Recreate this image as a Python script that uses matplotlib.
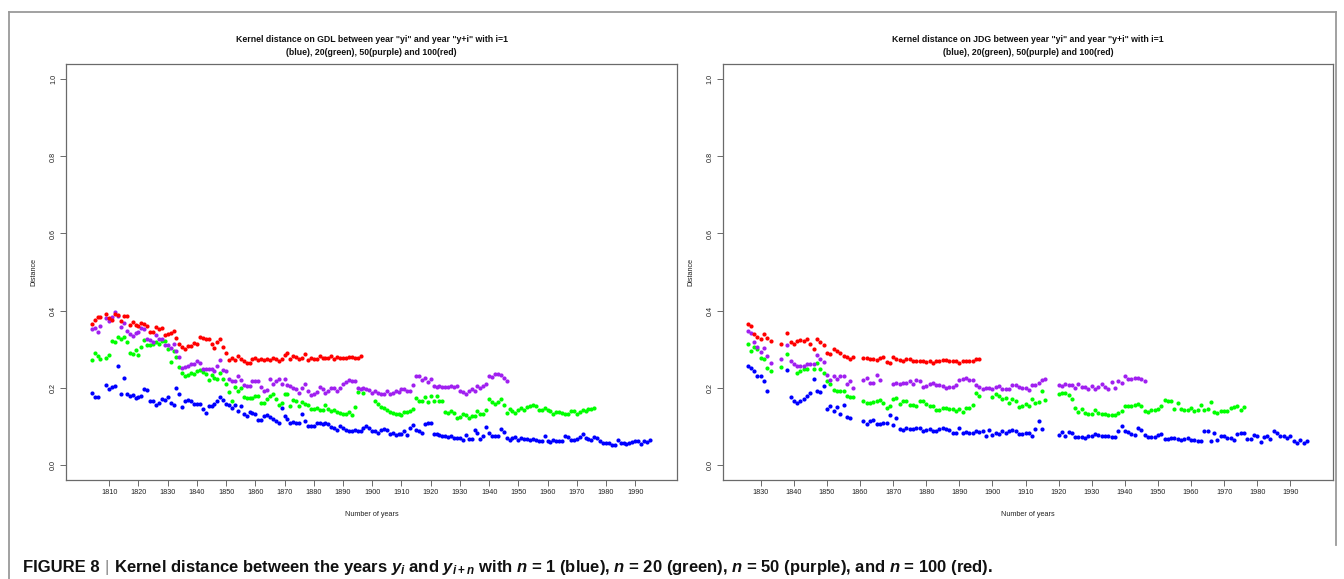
import matplotlib
matplotlib.use("Agg")
import matplotlib.pyplot as plt
from matplotlib.lines import Line2D
import numpy as np

plt.rcParams["font.family"] = ["Liberation Sans", "DejaVu Sans"]
plt.rcParams["mathtext.fontset"] = "custom"
plt.rcParams["mathtext.rm"] = "Liberation Sans:bold"
plt.rcParams["mathtext.bf"] = "Liberation Sans:bold"
plt.rcParams["mathtext.it"] = "Liberation Sans:italic:bold"

# ---------------------------------------------------------------- data
# GDL panel, one value per year starting at 1804 (None = no point)
GDL_START = 1804
gdl_blue = [
    0.186, 0.175, 0.175, None, None, 0.207,
    0.196, 0.201, 0.203, 0.256, 0.183, 0.224, 0.184, 0.177, 0.180, 0.173,
    0.175, 0.177, 0.197, 0.193, 0.166, 0.166, 0.156, 0.159, 0.170, 0.167,
    0.176, 0.160, 0.155, 0.199, 0.184, 0.150, 0.166, 0.168, 0.164, 0.157,
    0.158, 0.157, 0.144, 0.133, 0.152, 0.152, 0.158, 0.166, 0.176, 0.167,
    0.158, 0.156, 0.147, 0.156, 0.139, 0.151, 0.131, 0.125, 0.136, 0.133,
    0.132, 0.116, 0.115, 0.126, 0.128, 0.124, 0.119, 0.113, 0.109, 0.147,
    0.125, 0.119, 0.107, 0.110, 0.107, 0.107, 0.131, 0.114, 0.100, 0.100,
    0.101, 0.108, 0.109, 0.105, 0.109, 0.106, 0.098, 0.094, 0.091, 0.100,
    0.094, 0.091, 0.086, 0.087, 0.090, 0.086, 0.086, 0.094, 0.100, 0.095,
    0.087, 0.087, 0.083, 0.090, 0.092, 0.091, 0.080, 0.081, 0.078, 0.079,
    0.079, 0.086, 0.077, 0.096, 0.103, 0.090, 0.086, 0.082, 0.106, 0.107,
    0.107, 0.080, 0.080, 0.076, 0.075, 0.075, 0.072, 0.075, 0.070, 0.069,
    0.068, 0.065, 0.078, 0.066, 0.067, 0.091, 0.081, 0.066, 0.075, 0.098,
    0.082, 0.073, 0.073, 0.073, 0.092, 0.084, 0.069, 0.065, 0.069, 0.072,
    0.065, 0.068, 0.066, 0.066, 0.064, 0.066, 0.063, 0.061, 0.062, 0.075,
    0.060, 0.058, 0.063, 0.061, 0.062, 0.061, 0.073, 0.072, 0.065, 0.065,
    0.067, 0.072, 0.080, 0.069, 0.066, 0.065, 0.072, 0.069, 0.061, 0.055,
    0.055, 0.055, 0.052, 0.052, 0.065, 0.055, 0.055, 0.053, 0.056, 0.059,
    0.061, 0.061, 0.054, 0.062, 0.059, 0.065,
]
gdl_green = [
    0.271, 0.289, 0.281, 0.274, None, 0.278,
    0.284, 0.320, 0.318, 0.331, 0.327, 0.331, 0.319, 0.291, 0.288, 0.298,
    0.285, 0.306, 0.323, 0.310, 0.310, 0.314, 0.318, 0.312, 0.321, 0.321,
    0.300, 0.266, 0.294, 0.279, 0.253, 0.239, 0.231, 0.233, 0.239, 0.236,
    0.244, 0.245, 0.241, 0.235, 0.219, 0.232, 0.226, 0.223, 0.238, 0.221,
    0.208, 0.189, 0.164, 0.202, 0.190, 0.199, 0.176, 0.174, 0.172, 0.172,
    0.178, 0.177, 0.160, 0.160, 0.171, 0.177, 0.184, 0.169, 0.154, 0.159,
    0.184, 0.183, 0.153, 0.167, 0.164, 0.151, 0.162, 0.158, 0.156, 0.144,
    0.144, 0.147, 0.143, 0.141, 0.156, 0.144, 0.138, 0.141, 0.136, 0.134,
    0.132, 0.132, 0.136, 0.129, 0.150, 0.188, None, 0.185, None, None,
    None, 0.166, 0.157, 0.150, 0.148, 0.141, 0.136, 0.133, 0.132, 0.132,
    0.130, 0.136, 0.136, 0.139, 0.144, 0.173, 0.164, 0.166, 0.176, 0.163,
    0.179, 0.164, 0.177, 0.166, 0.164, 0.136, 0.134, 0.139, 0.134, 0.122,
    0.124, 0.132, 0.129, 0.122, 0.126, 0.127, 0.139, 0.132, 0.132, 0.141,
    0.171, 0.162, 0.158, 0.162, 0.169, 0.154, 0.133, 0.145, 0.139, 0.135,
    0.143, 0.148, 0.143, 0.150, 0.152, 0.154, 0.152, 0.143, 0.143, 0.147,
    0.143, 0.139, 0.132, 0.137, 0.136, 0.133, 0.132, 0.131, 0.139, 0.139,
    0.132, 0.136, 0.142, 0.139, 0.145, 0.145, 0.148,
]
gdl_purple = [
    0.351, 0.355, 0.344, 0.359, None, 0.381,
    0.373, 0.384, 0.396, 0.387, 0.356, 0.368, 0.348, 0.338, 0.334, 0.341,
    0.343, 0.355, 0.352, 0.327, 0.323, 0.319, 0.337, 0.326, 0.326, 0.311,
    0.311, 0.302, 0.312, 0.295, 0.280, 0.252, 0.254, 0.257, 0.260, 0.261,
    0.268, 0.264, 0.248, 0.248, 0.248, 0.248, 0.244, 0.255, 0.272, 0.245,
    0.242, 0.221, 0.216, 0.216, 0.229, 0.219, 0.206, 0.203, 0.203, 0.218,
    0.217, 0.216, 0.202, 0.190, 0.193, 0.223, 0.210, 0.217, 0.222, 0.210,
    0.223, 0.207, 0.203, 0.198, 0.195, 0.187, 0.199, 0.210, 0.190, 0.181,
    0.182, 0.189, 0.202, 0.195, 0.187, 0.191, 0.200, 0.198, 0.190, 0.198,
    0.209, 0.214, 0.219, 0.216, 0.216, 0.200, 0.195, 0.200, 0.197, 0.194,
    0.185, 0.191, 0.185, 0.182, 0.184, 0.190, 0.182, 0.185, 0.192, 0.189,
    0.197, 0.195, 0.190, 0.190, 0.207, 0.230, 0.229, 0.220, 0.226, 0.215,
    0.221, 0.205, 0.202, 0.203, 0.202, 0.201, 0.202, 0.203, 0.202, 0.203,
    0.190, 0.188, 0.184, 0.190, 0.197, 0.190, 0.205, 0.200, 0.203, 0.210,
    0.229, 0.227, 0.234, 0.235, 0.233, 0.226, 0.218,
]
gdl_red = [
    0.366, 0.375, 0.384, 0.384, None, 0.390,
    0.380, 0.375, 0.390, 0.388, 0.372, 0.387, 0.385, 0.363, 0.369, 0.362,
    0.359, 0.368, 0.366, 0.359, 0.343, 0.343, 0.356, 0.351, 0.355, 0.337,
    0.338, 0.342, 0.346, 0.328, 0.313, 0.304, 0.301, 0.307, 0.308, 0.316,
    0.313, 0.330, 0.329, 0.326, 0.326, 0.313, 0.303, 0.319, 0.325, 0.305,
    0.289, 0.272, 0.278, 0.271, 0.282, 0.274, 0.268, 0.263, 0.263, 0.274,
    0.277, 0.272, 0.273, 0.271, 0.275, 0.272, 0.277, 0.273, 0.269, 0.273,
    0.285, 0.290, 0.273, 0.282, 0.279, 0.275, 0.276, 0.286, 0.272, 0.278,
    0.274, 0.274, 0.281, 0.278, 0.276, 0.276, 0.282, 0.275, 0.279, 0.276,
    0.276, 0.278, 0.279, 0.279, 0.277, 0.277, 0.283,
]

# JDG panel, one value per year starting at 1826
JDG_START = 1826
jdg_blue = [
    0.257, 0.252, 0.244, 0.229,
    0.230, 0.218, 0.190, None, None, None, None, None, 0.246, 0.176,
    0.166, 0.160, 0.165, 0.171, 0.178, 0.186, 0.223, 0.191, 0.188, 0.203,
    0.144, 0.153, 0.139, 0.150, 0.131, 0.154, 0.123, 0.122, None, None,
    None, 0.114, 0.106, 0.113, 0.117, 0.106, 0.105, 0.109, 0.109, 0.129,
    0.103, 0.121, 0.093, 0.090, 0.094, 0.093, 0.093, 0.096, 0.096, 0.086,
    0.090, 0.093, 0.088, 0.086, 0.092, 0.095, 0.093, 0.090, 0.081, 0.081,
    0.095, 0.081, 0.085, 0.081, 0.081, 0.088, 0.084, 0.088, 0.075, 0.090,
    0.077, 0.081, 0.079, 0.088, 0.083, 0.087, 0.089, 0.087, 0.080, 0.079,
    0.081, 0.081, 0.074, 0.093, 0.114, 0.093, None, None, None, None,
    0.078, 0.084, 0.075, 0.085, 0.082, 0.071, 0.072, 0.072, 0.068, 0.073,
    0.073, 0.079, 0.076, 0.074, 0.074, 0.073, 0.072, 0.071, 0.086, 0.099,
    0.088, 0.084, 0.080, 0.078, 0.094, 0.089, 0.076, 0.072, 0.072, 0.072,
    0.076, 0.079, 0.066, 0.067, 0.070, 0.068, 0.067, 0.063, 0.067, 0.068,
    0.063, 0.065, 0.061, 0.061, 0.087, 0.088, 0.061, 0.081, 0.063, 0.075,
    0.075, 0.070, 0.070, 0.065, 0.079, 0.082, 0.082, 0.066, 0.066, 0.078,
    0.074, 0.059, 0.072, 0.074, 0.066, 0.086, 0.083, 0.075, 0.074, 0.069,
    0.073, 0.061, 0.057, 0.063, 0.055, 0.061,
]
jdg_green = [
    0.314, 0.294, 0.304, 0.299,
    0.278, 0.274, 0.252, 0.242, None, None, 0.253, None, 0.287, None,
    None, 0.239, 0.244, 0.249, 0.249, None, 0.249, 0.265, 0.249, 0.239,
    0.216, 0.208, 0.193, 0.190, 0.190, 0.190, 0.177, 0.176, 0.176, None,
    None, 0.165, 0.160, 0.160, 0.162, 0.166, 0.167, 0.159, 0.148, 0.153,
    0.170, 0.172, 0.157, 0.165, 0.165, 0.155, 0.155, 0.151, 0.165, 0.165,
    0.157, 0.152, 0.152, 0.141, 0.141, 0.147, 0.147, 0.145, 0.145, 0.139,
    0.145, 0.137, 0.146, 0.146, 0.156, 0.187, 0.179, None, None, None,
    0.176, 0.182, 0.178, 0.170, 0.172, 0.160, 0.170, 0.165, 0.149, 0.152,
    0.158, 0.151, 0.171, 0.161, 0.162, 0.190, 0.168, None, None, None,
    0.184, 0.185, 0.186, 0.181, 0.171, 0.148, 0.137, 0.145, 0.135, 0.132,
    0.132, 0.141, 0.135, 0.131, 0.132, 0.129, 0.129, 0.130, 0.135, 0.138,
    0.151, 0.152, 0.152, 0.156, 0.158, 0.153, 0.138, 0.137, 0.143, 0.141,
    0.144, 0.152, 0.167, 0.164, 0.166, 0.145, 0.160, 0.145, 0.141, 0.143,
    0.147, 0.140, 0.141, 0.155, 0.143, 0.144, 0.162, 0.136, 0.134, 0.139,
    0.140, 0.139, 0.148, 0.149, 0.152, 0.141, 0.150,
]
jdg_purple = [
    0.346, 0.341, 0.317, 0.304,
    0.292, 0.302, 0.281, 0.263, None, None, 0.273, None, 0.311, 0.269,
    0.262, 0.257, 0.255, 0.255, 0.261, 0.261, 0.261, 0.285, 0.274, 0.267,
    0.233, 0.219, 0.229, 0.223, 0.230, 0.229, 0.210, 0.216, 0.199, None,
    None, 0.220, 0.225, 0.212, 0.212, 0.233, 0.219, None, None, None,
    0.210, 0.211, 0.209, 0.212, 0.211, 0.216, 0.209, 0.219, 0.217, 0.201,
    0.203, 0.209, 0.211, 0.207, 0.207, 0.205, 0.199, 0.201, 0.201, 0.206,
    0.220, 0.223, 0.225, 0.220, 0.220, 0.206, 0.202, 0.197, 0.199, 0.200,
    0.197, 0.201, 0.205, 0.196, 0.196, 0.196, 0.206, 0.206, 0.201, 0.198,
    0.198, 0.194, 0.206, 0.206, 0.211, 0.219, 0.221, None, None, None,
    0.206, 0.203, 0.209, 0.207, 0.207, 0.199, 0.210, 0.201, 0.201, 0.197,
    0.203, 0.196, 0.201, 0.210, 0.202, 0.197, 0.214, 0.199, 0.216, 0.211,
    0.229, 0.223, 0.223, 0.226, 0.226, 0.223, 0.218,
]
jdg_red = [
    0.365, 0.360, 0.340, 0.332,
    0.326, 0.338, 0.329, 0.320, None, None, 0.313, None, 0.341, 0.317,
    0.313, 0.320, 0.324, 0.321, 0.326, 0.314, 0.301, 0.326, 0.317, 0.311,
    0.290, 0.286, 0.301, 0.296, 0.290, 0.282, 0.280, 0.275, 0.279, None,
    None, 0.277, 0.278, 0.273, 0.275, 0.271, 0.277, 0.279, 0.267, 0.265,
    0.280, 0.274, 0.271, 0.268, 0.274, 0.274, 0.270, 0.269, 0.269, 0.268,
    0.267, 0.270, 0.264, 0.268, 0.270, 0.271, 0.271, 0.268, 0.269, 0.268,
    0.265, 0.270, 0.269, 0.269, 0.270, 0.274, 0.274,
]

gdl_xticks = list(range(1810, 2000, 10))
jdg_xticks = list(range(1830, 2000, 10))
yticks = [0.0, 0.2, 0.4, 0.6, 0.8, 1.0]

title_tail = 'between year "yi" and year "y+i" with i=1\n(blue), 20(green), 50(purple) and 100(red)'
gdl_title = "Kernel distance on GDL " + title_tail
jdg_title = "Kernel distance on JDG " + title_tail

COLORS = {"blue": "#0000ff", "green": "#00ff00", "purple": "#a020f0", "red": "#ff0000"}
AXIS_GREY = "#6a6a6a"

W, H = 1344, 579
fig = plt.figure(figsize=(W / 100, H / 100), dpi=100)
fig.patch.set_facecolor("white")


def px_rect(x0, y0, x1, y1):
    return [x0 / W, 1 - y1 / H, (x1 - x0) / W, (y1 - y0) / H]


def as_array(vals):
    return np.array([np.nan if v is None else v for v in vals], dtype=float)


def panel(rect, start, series, xlim, xticks, title):
    ax = fig.add_axes(rect)
    for vals, cname in series:
        y = as_array(vals)
        x = np.arange(start, start + len(y))
        ax.scatter(x, y, s=9, color=COLORS[cname], linewidths=0, zorder=3)
    ax.set_xlim(*xlim)
    ax.set_ylim(-0.04, 1.04)
    ax.set_xticks(xticks)
    ax.set_xticklabels([str(t) for t in xticks])
    ax.set_yticks(yticks)
    ax.set_yticklabels([f"{t:.1f}" for t in yticks], rotation=90, va="center")
    ax.tick_params(direction="out", length=4, width=0.7, color=AXIS_GREY,
                   labelsize=5.2, labelcolor="#222222", pad=2.5)
    for sp in ax.spines.values():
        sp.set_color(AXIS_GREY)
        sp.set_linewidth(0.9)
    ax.set_xlabel("Number of years", fontsize=5.2, color="#222222", labelpad=11)
    ax.set_ylabel("Distance", fontsize=5.2, color="#222222", labelpad=9)
    bb = ax.get_position()
    fig.text(bb.x0 + bb.width / 2, 1 - 46 / H, title, ha="center", va="center",
             fontsize=6.3, fontweight="bold", linespacing=1.5, color="#111111")
    return ax


panel(px_rect(66, 64, 677, 480), GDL_START,
      [(gdl_blue, "blue"), (gdl_green, "green"), (gdl_purple, "purple"), (gdl_red, "red")],
      (1795.2, 2004.3), gdl_xticks, gdl_title)
panel(px_rect(722.7, 64, 1333, 480), JDG_START,
      [(jdg_blue, "blue"), (jdg_green, "green"), (jdg_purple, "purple"), (jdg_red, "red")],
      (1818.5, 2002.9), jdg_xticks, jdg_title)

# outer frame of the figure panel
frame_kw = dict(color="#9a9a9a", linewidth=1.3, transform=fig.transFigure)
fig.add_artist(Line2D([9 / W, 9 / W], [0, 1 - 12 / H], **frame_kw))
fig.add_artist(Line2D([9 / W, 1336 / W], [1 - 12 / H, 1 - 12 / H], **frame_kw))
fig.add_artist(Line2D([1336 / W, 1336 / W], [1 - 12 / H, 1 - 545 / H], **frame_kw))

# caption
renderer = fig.canvas.get_renderer()
cap_y = 1 - 572 / H
cap_fs = 12
t1 = fig.text(23 / W, cap_y, "FIGURE 8", fontsize=cap_fs, fontweight="bold",
              va="baseline", color="#111111")
b1 = t1.get_window_extent(renderer)
t2 = fig.text((b1.x1 + 5) / W, cap_y, "|", fontsize=cap_fs, va="baseline", color="#8a8a8a")
b2 = t2.get_window_extent(renderer)
fig.text((b2.x1 + 5) / W, cap_y,
         "Kernel distance between the years $y_i$ and $y_{i+n}$ with $n$ = 1 (blue), "
         "$n$ = 20 (green), $n$ = 50 (purple), and $n$ = 100 (red).",
         fontsize=cap_fs, fontweight="bold", va="baseline", color="#111111")

fig.savefig("out.png", dpi=100, facecolor="white")
